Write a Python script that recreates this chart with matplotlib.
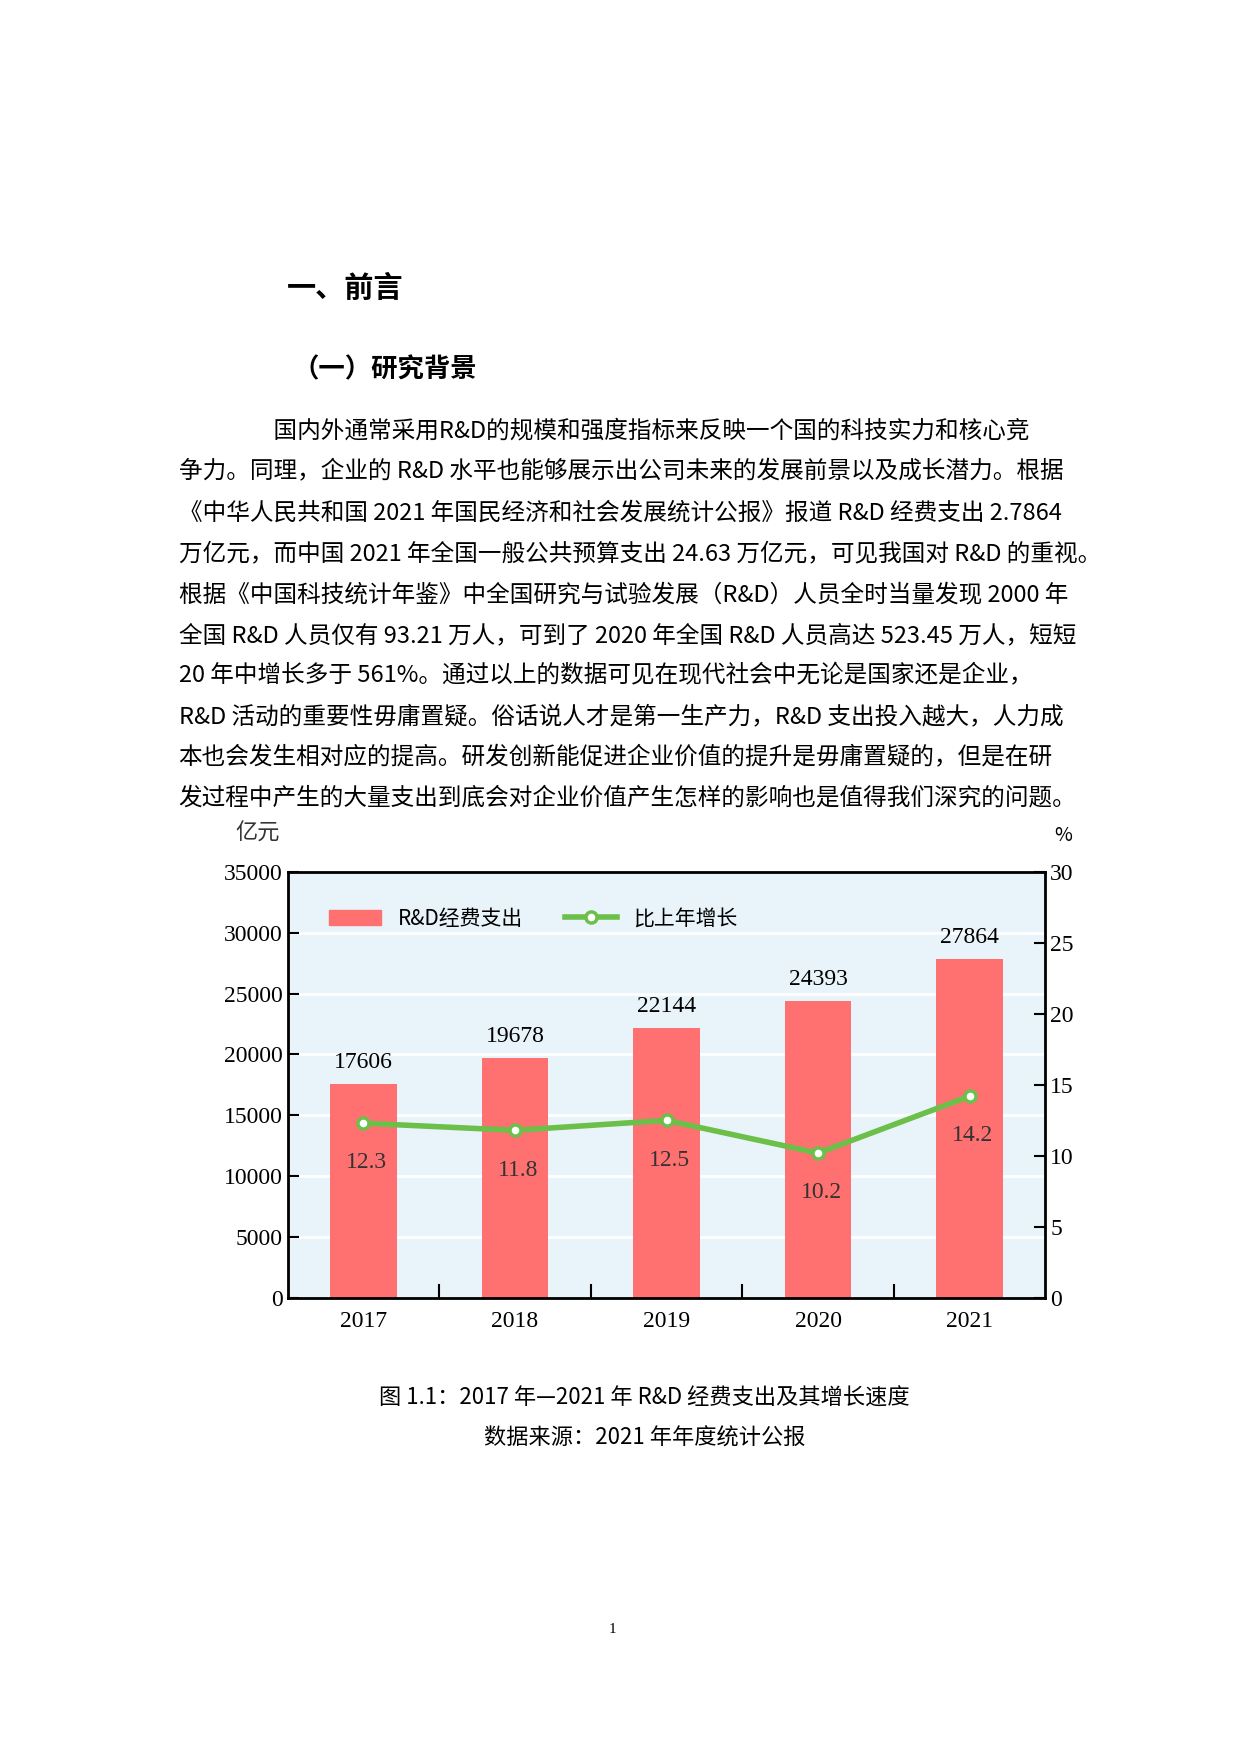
import matplotlib
matplotlib.use("Agg")
import matplotlib.pyplot as plt
from matplotlib.lines import Line2D
from matplotlib.patches import Patch

plt.rcParams['font.family'] = ['Noto Sans CJK SC', 'DejaVu Sans']

years = ['2017', '2018', '2019', '2020', '2021']
spend = [17606, 19678, 22144, 24393, 27864]
growth = [12.3, 11.8, 12.5, 10.2, 14.2]
left_ticks = [0, 5000, 10000, 15000, 20000, 25000, 30000, 35000]
right_ticks = [0, 5, 10, 15, 20, 25, 30]

body = [
    "　　　　国内外通常采用R&D的规模和强度指标来反映一个国的科技实力和核心竞",
    "争力。同理，企业的 R&D 水平也能够展示出公司未来的发展前景以及成长潜力。根据",
    "《中华人民共和国 2021 年国民经济和社会发展统计公报》报道 R&D 经费支出 2.7864",
    "万亿元，而中国 2021 年全国一般公共预算支出 24.63 万亿元，可见我国对 R&D 的重视。",
    "根据《中国科技统计年鉴》中全国研究与试验发展（R&D）人员全时当量发现 2000 年",
    "全国 R&D 人员仅有 93.21 万人，可到了 2020 年全国 R&D 人员高达 523.45 万人，短短",
    "20 年中增长多于 561%。通过以上的数据可见在现代社会中无论是国家还是企业，",
    "R&D 活动的重要性毋庸置疑。俗话说人才是第一生产力，R&D 支出投入越大，人力成",
    "本也会发生相对应的提高。研发创新能促进企业价值的提升是毋庸置疑的，但是在研",
    "发过程中产生的大量支出到底会对企业价值产生怎样的影响也是值得我们深究的问题。",
]

fig = plt.figure(figsize=(12.4, 17.54), dpi=100)
fig.text(0.231, 0.836, "一、前言", fontsize=21, fontweight='bold', va='center')
fig.text(0.236, 0.789, "（一）研究背景", fontsize=19, fontweight='bold', va='center')
for i, line in enumerate(body):
    fig.text(0.144, 0.754 - i * 0.02325, line, fontsize=17, va='center')

ax = fig.add_axes([0.232, 0.260, 0.611, 0.243])
ax.set_facecolor('#e8f4fa')
x = list(range(len(years)))
ax.bar(x, spend, width=0.44, color='#ff7070', zorder=2)
ax.set_ylim(0, 35000)
ax.set_xlim(-0.5, 4.5)
ax.set_yticks(left_ticks)
ax.set_yticklabels([str(t) for t in left_ticks], fontsize=17, family='Liberation Serif')
ax.set_xticks([i + 0.5 for i in range(4)])
ax.set_xticklabels([])
ax.tick_params(axis='x', direction='in', length=10, width=1.5)
ax.tick_params(axis='y', direction='in', length=8, width=1.5)
for i, y in enumerate(years):
    ax.text(i, -1100, y, ha='center', va='top', fontsize=17, family='Liberation Serif')
for t in left_ticks[1:-1]:
    ax.axhline(t, color='white', lw=2, zorder=1)
for i, v in enumerate(spend):
    ax.text(i, v + 900, str(v), ha='center', va='bottom', fontsize=17, family='Liberation Serif')
for s in ax.spines.values():
    s.set_linewidth(2)
ax.text(-0.55, 37200, "亿元", ha='right', va='bottom', fontsize=16, color='#333333')

ax2 = ax.twinx()
ax2.set_ylim(0, 30)
ax2.set_yticks(right_ticks)
ax2.set_yticklabels([str(t) for t in right_ticks], fontsize=17, family='Liberation Serif')
ax2.tick_params(axis='y', direction='in', length=8, width=1.5)
ax2.plot(x, growth, color='#6cc04a', lw=4, marker='o', ms=8, mfc='white', mec='#6cc04a', mew=2.5, zorder=3)
for i, g in enumerate(growth):
    ax2.text(i + 0.02, g - 2.8, f"{g}", ha='center', va='center',
             fontsize=17, family='Liberation Serif', color='#333333')
ax2.text(4.62, 31.8, "%", ha='center', va='bottom', fontsize=14)

handles = [Patch(color='#ff7070'),
           Line2D([], [], color='#6cc04a', lw=4, marker='o', ms=8, mfc='white', mec='#6cc04a', mew=2.5)]
ax.legend(handles, ["R&D经费支出", "比上年增长"], loc='upper left', bbox_to_anchor=(0.03, 0.96),
          ncol=2, frameon=False, fontsize=15, handlelength=2.5, columnspacing=2)

fig.text(0.52, 0.203, "图 1.1：2017 年—2021 年 R&D 经费支出及其增长速度", ha='center', fontsize=16, va='center')
fig.text(0.52, 0.180, "数据来源：2021 年年度统计公报", ha='center', fontsize=16, va='center')
fig.text(0.494, 0.071, "1", ha='center', fontsize=11, va='center', family='Liberation Serif')

fig.savefig("out.png", dpi=100)
